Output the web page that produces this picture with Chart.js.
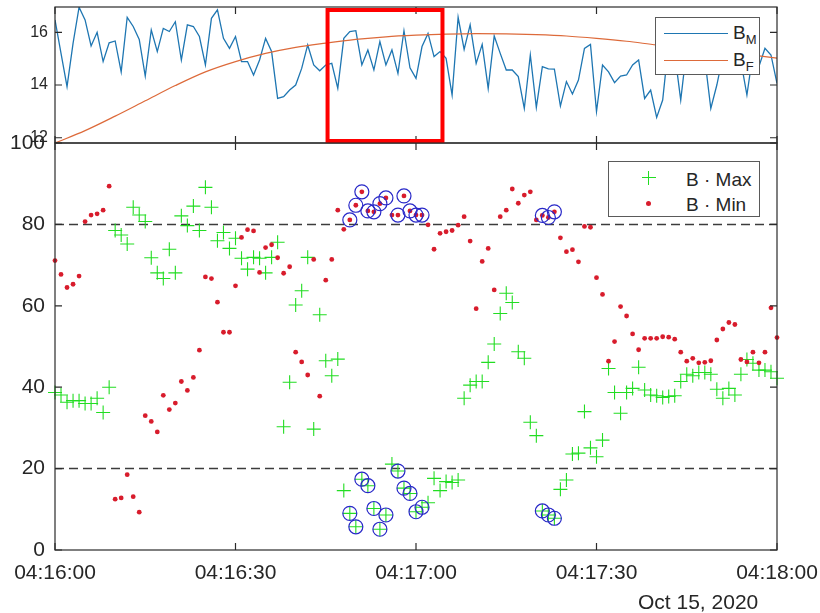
<!DOCTYPE html>
<html>
<head>
<meta charset="utf-8">
<script src="https://cdn.jsdelivr.net/npm/chart.js@4.4.1/dist/chart.umd.min.js"></script>
<style>
  html, body { margin: 0; padding: 0; background: #fff; }
  #wrap { position: relative; width: 820px; height: 613px; font-family: "Liberation Sans", Arial, sans-serif; color: #262626; }
  #wrap canvas { position: absolute; left: 0; top: 0; }
  .legend { position: absolute; background: #fff; border: 1px solid #5a5a5a; box-sizing: border-box; }
  .legend .txt { position: absolute; font-size: 19px; line-height: 19px; white-space: pre; }
  .legend .txt span { font-size: 13px; position: relative; top: 5px; }
  .legend .ln { position: absolute; width: 64px; height: 0; }
  .plus { position: absolute; width: 14px; height: 14px; }
  .plus::before { content: ''; position: absolute; left: 0; top: 6px; width: 14px; height: 1px; background: #22dd22; }
  .plus::after { content: ''; position: absolute; left: 6px; top: 0; width: 1px; height: 14px; background: #22dd22; }
  .dot { position: absolute; width: 5px; height: 5px; border-radius: 50%; background: #d81c2c; }
  #date { position: absolute; left: 638px; top: 591px; font-size: 21px; line-height: 21px; white-space: pre; }
</style>
</head>
<body>
<div id="wrap">
  <canvas id="fieldChart" width="820" height="613"></canvas>
  <canvas id="rangeChart" width="820" height="613"></canvas>

  <div class="legend" style="left:655px; top:17px; width:105px; height:58px;">
    <div class="ln" style="left:8px; top:15px; border-top:1.3px solid #1e76b2;"></div>
    <div class="txt" style="left:77px; top:5px;">B<span>M</span></div>
    <div class="ln" style="left:8px; top:42px; border-top:1.3px solid #dd6a3a;"></div>
    <div class="txt" style="left:77px; top:32px;">B<span>F</span></div>
  </div>

  <div class="legend" style="left:608px; top:161px; width:152px; height:56px;">
    <div class="plus" style="left:33px; top:9px;"></div>
    <div class="txt" style="left:77px; top:8px;">B · Max</div>
    <div class="dot" style="left:37px; top:39px;"></div>
    <div class="txt" style="left:77px; top:33px;">B · Min</div>
  </div>

  <div id="date">Oct 15, 2020</div>
</div>

<script>
// ---------- data (seconds after 04:16:00, one sample per second) ----------

// measured field
var bM = [
  16.47, 15.2, 13.94, 15.58, 16.95, 16.47, 15.48, 16.0, 14.89, 15.6,
  15.67, 14.5, 16.57, 16.22, 15.73, 14.34, 16.09, 15.27, 16.15, 16.03,
  16.4, 14.95, 16.28, 16.22, 15.84, 14.76, 16.53, 16.85, 15.77, 15.39,
  15.84, 14.89, 14.89, 14.38, 14.95, 15.77, 15.27, 13.49, 13.56, 13.81,
  14.0, 14.63, 15.52, 14.76, 14.54, 14.76, 14.82, 13.87, 15.77, 16.03,
  16.06, 14.76, 15.33, 14.57, 15.65, 14.76, 15.33, 14.44, 16.06, 14.65,
  14.25, 15.46, 15.96, 15.08, 15.27, 15.01, 13.62, 16.57, 15.35, 16.28,
  14.82, 15.54, 13.87, 15.86, 15.2, 14.57, 14.57, 14.32, 13.11, 15.14,
  13.15, 14.7, 14.61, 14.6, 13.2, 14.13, 13.66, 14.19, 15.39, 15.54,
  12.99, 14.76, 14.5, 14.09, 14.34, 14.38, 14.76, 14.95, 13.49, 13.81,
  12.77, 13.43, 15.6, 15.2, 13.43, 15.4, 14.9, 15.5, 15.0, 13.11,
  14.0, 15.1, 14.8, 15.3, 14.9, 13.62, 15.2, 14.7, 15.39, 15.14, 14.06
];

// fitted field, every 5 s
var fitSec = [0, 5, 10, 15, 20, 25, 30, 35, 40, 45, 50, 55, 60, 65, 70, 75, 80, 85, 90, 95, 100, 105, 110, 115, 120];
var bF = [11.8, 12.27, 12.82, 13.4, 13.98, 14.5, 14.89, 15.2, 15.43, 15.59, 15.73, 15.83, 15.89, 15.93, 15.95,
          15.94, 15.91, 15.86, 15.77, 15.66, 15.52, 15.4, 15.28, 15.16, 15.02];

// B.Max and B.Min
var bMax = [
  38.7, 38.1, 36.3, 36.7, 36.7, 36.0, 36.0, 37.3, 33.8, 40.0,
  78.5, 77.4, 75.2, 84.2, 82.3, 80.7, 71.8, 68.1, 66.7, 73.9,
  68.1, 82.1, 79.7, 84.5, 78.5, 89.1, 84.2, 76.0, 78.0, 74.1,
  76.6, 71.7, 69.0, 71.9, 71.7, 68.1, 71.9, 75.6, 30.3, 41.2,
  60.2, 63.7, 71.9, 29.7, 57.8, 46.5, 42.8, 46.9, 14.6, 9.0,
  5.7, 17.4, 15.8, 10.2, 5.1, 8.6, 21.1, 19.4, 15.2, 13.9,
  9.4, 10.5, 11.6, 17.6, 14.6, 16.8, 16.6, 17.2, 37.3, 40.5,
  41.4, 41.4, 46.1, 50.6, 58.1, 63.1, 60.8, 48.7, 47.1, 31.4,
  28.1, 9.6, 8.6, 7.8, 14.9, 17.2, 23.6, 23.8, 34.0, 25.1,
  22.9, 27.0, 44.6, 38.7, 33.6, 38.7, 39.7, 44.9, 39.3, 38.1,
  37.9, 37.5, 37.7, 37.9, 41.4, 43.2, 42.8, 43.6, 43.6, 43.2,
  39.5, 37.3, 39.7, 38.1, 43.2, 46.8, 45.9, 44.2, 44.2, 43.8, 42.2
];

var bMin = [
  71.1, 67.7, 64.5, 65.3, 67.3, 80.7, 82.3, 82.6, 83.5, 89.4,
  12.5, 12.8, 18.5, 13.1, 9.3, 33.0, 31.6, 29.0, 38.0, 34.5,
  36.1, 41.4, 39.2, 42.4, 49.1, 67.1, 66.7, 60.9, 53.5, 53.5,
  64.9, 76.8, 78.7, 78.4, 68.2, 74.3, 75.0, 71.8, 68.0, 69.6,
  48.6, 46.2, 43.0, 71.4, 37.8, 66.3, 71.4, 83.5, 78.8, 81.1,
  84.7, 88.0, 83.3, 83.1, 85.1, 86.5, 82.3, 82.3, 87.0, 83.3,
  82.3, 82.3, 79.9, 73.9, 77.8, 78.2, 78.5, 79.8, 81.9, 75.9,
  59.3, 70.9, 74.1, 63.9, 81.9, 83.5, 88.7, 85.2, 87.2, 88.0,
  81.1, 82.2, 81.7, 83.1, 76.7, 73.3, 73.8, 70.8, 79.5, 79.3,
  66.9, 62.8, 46.4, 51.2, 59.8, 57.5, 53.1, 49.2, 52.0, 52.0,
  52.0, 52.4, 52.3, 51.8, 48.6, 46.4, 47.1, 46.0, 46.1, 46.5,
  51.6, 54.3, 55.9, 55.4, 46.8, 46.2, 48.6, 46.0, 48.6, 59.5, 52.2
];

// thresholds (dashed lines)
var lowLimit = 20;
var highLimit = 80;

// highlighted window on the field panel (s)
var focusWindow = [45.3, 64.4];

// axis ticks
var timeTicks = [0, 30, 60, 90, 120];
var timeLabels = ["04:16:00", "04:16:30", "04:17:00", "04:17:30", "04:18:00"];
var fieldTicks = [12, 14, 16];
var rangeTicks = [0, 20, 40, 60, 80, 100];

// ---------- helpers ----------
var seconds = bM.map(function (v, i) { return i; });
function pts(xs, ys) { return ys.map(function (v, i) { return { x: xs[i], y: v }; }); }

// samples where min is above the upper limit while max is below the lower one
var flagged = seconds.filter(function (i) { return bMin[i] > highLimit && bMax[i] < lowLimit; });
var rings = [];
flagged.forEach(function (i) {
  rings.push({ x: i, y: bMin[i] });
  rings.push({ x: i, y: bMax[i] });
});

var tickFont = { family: "'Liberation Sans', Arial, sans-serif" };

// box around the plot with inward ticks on all four sides
var frame = {
  id: "frame",
  afterDatasetsDraw: function (chart, args, opts) {
    var ctx = chart.ctx, a = chart.chartArea, x = chart.scales.x, y = chart.scales.y;
    ctx.save();
    ctx.strokeStyle = "#2b2b2b";
    ctx.lineWidth = 1.2;
    ctx.strokeRect(a.left, a.top, a.right - a.left, a.bottom - a.top);
    ctx.beginPath();
    opts.xTicks.forEach(function (v) {
      var px = x.getPixelForValue(v);
      ctx.moveTo(px, a.bottom); ctx.lineTo(px, a.bottom - 7);
      ctx.moveTo(px, a.top); ctx.lineTo(px, a.top + 7);
    });
    opts.yTicks.forEach(function (v) {
      var py = y.getPixelForValue(v);
      ctx.moveTo(a.left, py); ctx.lineTo(a.left + 7, py);
      ctx.moveTo(a.right, py); ctx.lineTo(a.right - 7, py);
    });
    ctx.stroke();
    ctx.restore();
  }
};

// red box marking the window of interest
var windowBox = {
  id: "windowBox",
  afterDatasetsDraw: function (chart) {
    var ctx = chart.ctx, a = chart.chartArea, x = chart.scales.x;
    var x0 = x.getPixelForValue(focusWindow[0]);
    var x1 = x.getPixelForValue(focusWindow[1]);
    ctx.save();
    ctx.strokeStyle = "#ff0000";
    ctx.lineWidth = 4;
    ctx.strokeRect(x0, a.top + 3, x1 - x0, a.bottom - a.top - 5);
    ctx.restore();
  }
};

// ---------- field panel ----------
new Chart(document.getElementById("fieldChart"), {
  type: "line",
  data: {
    datasets: [
      {
        label: "B_F",
        data: pts(fitSec, bF),
        borderColor: "#dd6a3a",
        borderWidth: 1.2,
        pointRadius: 0,
        cubicInterpolationMode: "monotone",
        order: 0
      },
      {
        label: "B_M",
        data: pts(seconds, bM),
        borderColor: "#1e76b2",
        borderWidth: 1.3,
        pointRadius: 0,
        tension: 0,
        order: 1
      }
    ]
  },
  options: {
    responsive: false,
    animation: false,
    events: [],
    layout: { padding: { left: 0, top: 7, right: 43, bottom: 470 } },
    plugins: {
      legend: { display: false },
      tooltip: { enabled: false },
      frame: { xTicks: timeTicks, yTicks: fieldTicks }
    },
    scales: {
      x: { type: "linear", min: 0, max: 120, display: false },
      y: {
        min: 11.8,
        max: 16.96,
        grid: { display: false, drawTicks: false },
        border: { display: false },
        ticks: { font: Object.assign({ size: 16 }, tickFont), color: "#262626", padding: 7 },
        afterBuildTicks: function (s) { s.ticks = fieldTicks.map(function (v) { return { value: v }; }); },
        afterFit: function (s) { s.width = 55; s.paddingTop = 0; s.paddingBottom = 0; }
      }
    }
  },
  plugins: [frame, windowBox]
});

// ---------- max / min panel ----------
var dashLine = function (level) {
  return {
    type: "line",
    data: [{ x: 0, y: level }, { x: 120, y: level }],
    borderColor: "#3c3c3c",
    borderWidth: 1.5,
    borderDash: [9, 5],
    pointRadius: 0,
    order: 3
  };
};

new Chart(document.getElementById("rangeChart"), {
  type: "scatter",
  data: {
    datasets: [
      {
        label: "flagged",
        data: rings,
        pointStyle: "circle",
        pointRadius: 7,
        backgroundColor: "rgba(0,0,0,0)",
        borderColor: "#2828c8",
        borderWidth: 1.2,
        clip: false,
        order: 0
      },
      {
        label: "B · Min",
        data: pts(seconds, bMin),
        pointStyle: "circle",
        pointRadius: 2.4,
        backgroundColor: "#d81c2c",
        borderWidth: 0,
        clip: false,
        order: 1
      },
      {
        label: "B · Max",
        data: pts(seconds, bMax),
        pointStyle: "cross",
        pointRadius: 7,
        borderColor: "#22dd22",
        borderWidth: 1.1,
        clip: false,
        order: 2
      },
      dashLine(highLimit),
      dashLine(lowLimit)
    ]
  },
  options: {
    responsive: false,
    animation: false,
    events: [],
    layout: { padding: { left: 0, top: 143, right: 43, bottom: 0 } },
    plugins: {
      legend: { display: false },
      tooltip: { enabled: false },
      frame: { xTicks: timeTicks, yTicks: rangeTicks }
    },
    scales: {
      x: {
        type: "linear",
        min: 0,
        max: 120,
        grid: { display: false, drawTicks: false },
        border: { display: false },
        ticks: {
          font: Object.assign({ size: 21 }, tickFont),
          color: "#262626",
          padding: 11,
          maxRotation: 0,
          callback: function (v) { return timeLabels[timeTicks.indexOf(v)]; }
        },
        afterBuildTicks: function (s) { s.ticks = timeTicks.map(function (v) { return { value: v }; }); },
        afterFit: function (s) { s.height = 63; s.paddingLeft = 0; s.paddingRight = 0; }
      },
      y: {
        min: 0,
        max: 100,
        grid: { display: false, drawTicks: false },
        border: { display: false },
        ticks: { font: Object.assign({ size: 21 }, tickFont), color: "#262626", padding: 10 },
        afterBuildTicks: function (s) { s.ticks = rangeTicks.map(function (v) { return { value: v }; }); },
        afterFit: function (s) { s.width = 55; s.paddingTop = 0; s.paddingBottom = 0; }
      }
    }
  },
  plugins: [frame]
});
</script>
</body>
</html>
